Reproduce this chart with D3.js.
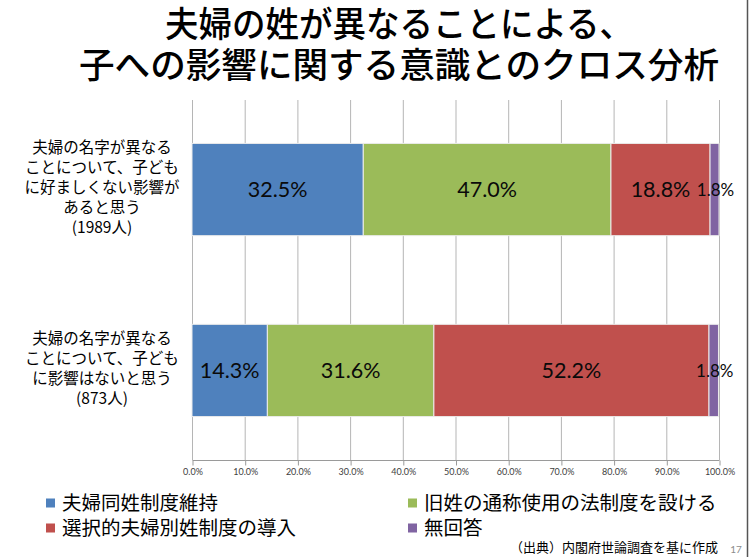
<!DOCTYPE html>
<html>
<head>
<meta charset="utf-8">
<script src="https://cdn.jsdelivr.net/npm/d3@7"></script>
<style>
  body { margin: 0; background: #fff; }
  svg { display: block; }
</style>
</head>
<body>
<script>
// data
var titleLines = ["夫婦の姓が異なることによる、", "子への影響に関する意識とのクロス分析"];
var groups = ["g1", "g2"];
var groupLabels = [
  ["夫婦の名字が異なる", "ことについて、子ども", "に好ましくない影響が", "あると思う", "(1989人)"],
  ["夫婦の名字が異なる", "ことについて、子ども", "に影響はないと思う", "(873人)"]
];
var seriesNames = ["夫婦同姓制度維持", "旧姓の通称使用の法制度を設ける", "選択的夫婦別姓制度の導入", "無回答"];
var seriesColors = ["#4F81BD", "#9BBB59", "#C0504D", "#8064A2"];
var values = [
  [32.5, 47.0, 18.8, 1.8],
  [14.3, 31.6, 52.2, 1.8]
];
var xTicks = [0, 10, 20, 30, 40, 50, 60, 70, 80, 90, 100];
var sourceText = "（出典）内閣府世論調査を基に作成";
var pageNo = "17";

var W = 750, H = 557;
var jp = "'Noto Sans CJK JP', 'Noto Sans', sans-serif";
var num = "Lato, 'Open Sans', sans-serif";

var svg = d3.select("body").append("svg")
    .attr("width", W)
    .attr("height", H);

// title
svg.append("text")
    .attr("x", 165).attr("y", 37)
    .attr("font-family", jp).attr("font-size", 35).attr("font-weight", 500)
    .attr("textLength", 468).attr("lengthAdjust", "spacingAndGlyphs")
    .text(titleLines[0]);
svg.append("text")
    .attr("x", 79).attr("y", 78)
    .attr("font-family", jp).attr("font-size", 35).attr("font-weight", 500)
    .attr("textLength", 640).attr("lengthAdjust", "spacingAndGlyphs")
    .text(titleLines[1]);

// scales
var x = d3.scaleLinear().domain([0, 100]).range([192, 719]);
var y = d3.scaleBand().domain(groups).range([100, 460])
    .paddingInner(0.49).paddingOuter(0.24);

// gridlines
svg.append("g")
  .selectAll("line")
  .data(xTicks)
  .enter().append("line")
    .attr("x1", function (d) { return x(d) + 0.5 })
    .attr("x2", function (d) { return x(d) + 0.5 })
    .attr("y1", 100).attr("y2", 460)
    .attr("stroke", "#b5b5b5").attr("stroke-width", 1);

// x axis
var xAxis = d3.axisBottom(x)
    .tickValues(xTicks)
    .tickSize(5)
    .tickFormat(function (d) { return d.toFixed(1) + "%" });
var gx = svg.append("g")
    .attr("transform", "translate(0.5,460.5)")
    .call(xAxis);
gx.select(".domain").attr("stroke", "#9a9a9a").attr("d", "M" + x(0) + ",0H" + x(100));
gx.selectAll(".tick line").attr("stroke", "#9a9a9a");
gx.selectAll(".tick text")
    .attr("font-family", num).attr("font-size", 9).attr("fill", "#404040")
    .attr("y", 8);

// stacked bars
var rows = values.map(function (v, i) {
  var acc = 0;
  return v.map(function (val, j) {
    var seg = { g: groups[i], j: j, v: val, x0: acc, x1: Math.min(100, acc + val) };
    acc += val;
    return seg;
  });
});
var segs = [].concat.apply([], rows);

svg.append("g")
  .selectAll("rect")
  .data(segs)
  .enter().append("rect")
    .attr("x", function (d) { return x(d.x0) })
    .attr("y", function (d) { return y(d.g) })
    .attr("width", function (d) { return x(d.x1) - x(d.x0) })
    .attr("height", y.bandwidth())
    .attr("fill", function (d) { return seriesColors[d.j] })
    .attr("stroke", "#ececec").attr("stroke-width", 1);

svg.append("g")
  .selectAll("text")
  .data(segs)
  .enter().append("text")
    .attr("x", function (d) { return (x(d.x0) + x(d.x1)) / 2 + (d.j === 3 ? 1 : 0) })
    .attr("y", function (d) { return y(d.g) + y.bandwidth() / 2 })
    .attr("dy", "0.36em")
    .attr("text-anchor", "middle")
    .attr("font-family", num)
    .attr("font-size", function (d) { return d.j === 3 ? 17 : 21.5 })
    .attr("fill", "#0a0a0a")
    .text(function (d) { return d.v.toFixed(1) + "%" });

// category labels
groupLabels.forEach(function (lines, i) {
  var cy = y(groups[i]) + y.bandwidth() / 2 - 2;
  var t = svg.append("text")
      .attr("text-anchor", "middle")
      .attr("font-family", jp).attr("font-size", 15.5).attr("fill", "#000");
  lines.forEach(function (s, k) {
    t.append("tspan")
        .attr("x", 102)
        .attr("y", cy + (k - (lines.length - 1) / 2) * 20)
        .attr("dy", "0.36em")
        .text(s);
  });
});

// legend
var legPos = [[46, 503], [408, 503], [46, 528], [408, 528]];
var leg = svg.append("g")
  .selectAll("g")
  .data(seriesNames)
  .enter().append("g")
    .attr("transform", function (d, i) { return "translate(" + legPos[i][0] + "," + legPos[i][1] + ")" });
leg.append("rect")
    .attr("x", 0).attr("y", -4.5)
    .attr("width", 9).attr("height", 9)
    .attr("fill", function (d, i) { return seriesColors[i] });
leg.append("text")
    .attr("x", 16).attr("dy", "0.36em")
    .attr("font-family", jp).attr("font-size", 19.5).attr("fill", "#000")
    .text(function (d) { return d });

// source and page number
svg.append("text")
    .attr("x", 718).attr("y", 547).attr("dy", "0.36em")
    .attr("text-anchor", "end")
    .attr("font-family", jp).attr("font-size", 13).attr("fill", "#000")
    .text(sourceText);
svg.append("text")
    .attr("x", 736).attr("y", 549).attr("dy", "0.36em")
    .attr("text-anchor", "middle")
    .attr("font-family", num).attr("font-size", 10).attr("fill", "#8c8c8c")
    .text(pageNo);

// slide edge
svg.append("line")
    .attr("x1", 747.5).attr("x2", 747.5).attr("y1", 0).attr("y2", H)
    .attr("stroke", "#555").attr("stroke-width", 1.5);
</script>
</body>
</html>
